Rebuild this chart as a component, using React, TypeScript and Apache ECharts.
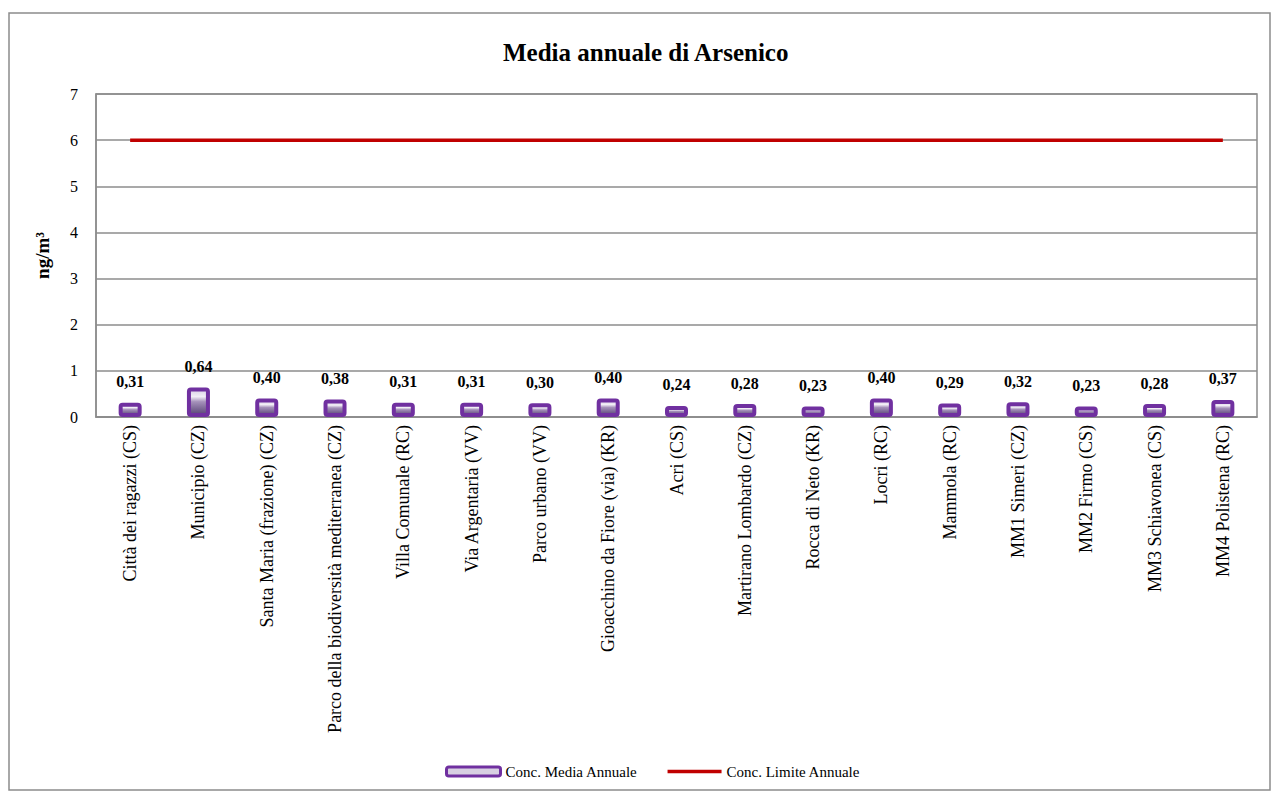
import React, { useEffect, useRef } from "react";
import * as echarts from "echarts";

const categories = [
  "Città dei ragazzi (CS)",
  "Municipio (CZ)",
  "Santa Maria (frazione) (CZ)",
  "Parco della biodiversità mediterranea (CZ)",
  "Villa Comunale (RC)",
  "Via Argentaria (VV)",
  "Parco urbano (VV)",
  "Gioacchino da Fiore (via) (KR)",
  "Acri (CS)",
  "Martirano Lombardo (CZ)",
  "Rocca di Neto (KR)",
  "Locri (RC)",
  "Mammola (RC)",
  "MM1 Simeri (CZ)",
  "MM2 Firmo (CS)",
  "MM3 Schiavonea (CS)",
  "MM4 Polistena (RC)",
];

const mediaAnnuale = [0.31, 0.64, 0.4, 0.38, 0.31, 0.31, 0.3, 0.4, 0.24, 0.28, 0.23, 0.4, 0.29, 0.32, 0.23, 0.28, 0.37];
const limiteAnnuale = [6, 6, 6, 6, 6, 6, 6, 6, 6, 6, 6, 6, 6, 6, 6, 6, 6];

const FONT = "'Liberation Serif', 'Times New Roman', serif";

export default function App() {
  const ref = useRef<HTMLDivElement>(null);
  useEffect(() => {
    if (!ref.current) return;
    const chart = echarts.init(ref.current, null, { renderer: "svg" });
    const barFill = new echarts.graphic.LinearGradient(0, 0, 0, 1, [
      { offset: 0, color: "#d9d0e5" },
      { offset: 0.28, color: "#f2eef6" },
      { offset: 0.48, color: "#a591ba" },
      { offset: 1, color: "#574275" },
    ]);
    chart.setOption({
      animation: false,
      textStyle: { fontFamily: FONT },
      graphic: [
        {
          type: "rect",
          shape: { x: 9, y: 13, width: 1261, height: 777 },
          style: { fill: "none", stroke: "#8c8c8c", lineWidth: 1.5 },
          silent: true,
        },
      ],
      title: {
        text: "Media annuale di Arsenico",
        left: 498,
        top: 35,
        textStyle: { fontFamily: FONT, fontSize: 25, fontWeight: "bold", color: "#000" },
      },
      legend: {
        bottom: 14,
        left: 440,
        itemGap: 30,
        itemWidth: 54,
        itemHeight: 9,
        textStyle: { fontFamily: FONT, fontSize: 15, color: "#000" },
        data: [
          {
            name: "Conc. Media Annuale",
            icon: "roundRect",
            itemStyle: { color: "#d8d0e2", borderColor: "#7030A0", borderWidth: 3 },
          },
          {
            name: "Conc. Limite Annuale",
            icon: "path://M0,0H54V3.5H0Z",
            itemStyle: { color: "#C00000" },
          },
        ],
      },
      grid: {
        left: 96,
        top: 94,
        width: 1161,
        height: 323,
        show: true,
        borderColor: "#8c8c8c",
        borderWidth: 1.5,
        containLabel: false,
      },
      xAxis: {
        type: "category",
        data: categories,
        boundaryGap: true,
        axisLine: { lineStyle: { color: "#8c8c8c", width: 1.5 } },
        axisTick: { show: false },
        axisLabel: {
          rotate: 90,
          interval: 0,
          margin: 8,
          fontFamily: FONT,
          fontSize: 18,
          color: "#000",
        },
      },
      yAxis: {
        type: "value",
        min: 0,
        max: 7,
        interval: 1,
        name: "ng/m³",
        nameLocation: "middle",
        nameGap: 44,
        nameRotate: 90,
        nameTextStyle: { fontFamily: FONT, fontSize: 19, fontWeight: "bold", color: "#000" },
        axisLine: { show: true, lineStyle: { color: "#8c8c8c", width: 1.5 } },
        axisTick: { show: false },
        splitLine: { lineStyle: { color: "#8c8c8c", width: 1.5 } },
        axisLabel: { fontFamily: FONT, fontSize: 16, color: "#000", margin: 18 },
      },
      series: [
        {
          name: "Conc. Media Annuale",
          type: "bar",
          data: mediaAnnuale,
          barWidth: 23,
          itemStyle: {
            color: barFill,
            borderColor: "#7030A0",
            borderWidth: 4,
            borderRadius: 2,
          },
          label: {
            show: true,
            position: "top",
            distance: 13,
            fontFamily: FONT,
            fontSize: 16,
            fontWeight: "bold",
            color: "#000",
            formatter: (p: any) => Number(p.value).toFixed(2).replace(".", ","),
          },
          z: 3,
        },
        {
          name: "Conc. Limite Annuale",
          type: "line",
          data: limiteAnnuale,
          symbol: "none",
          showSymbol: false,
          lineStyle: { color: "#C00000", width: 3.5 },
          itemStyle: { color: "#C00000" },
          z: 4,
        },
      ],
    });
    return () => chart.dispose();
  }, []);
  return (
    <div
      ref={ref}
      style={{ position: "absolute", left: 0, top: 0, width: 1274, height: 798, background: "#fff" }}
    />
  );
}
